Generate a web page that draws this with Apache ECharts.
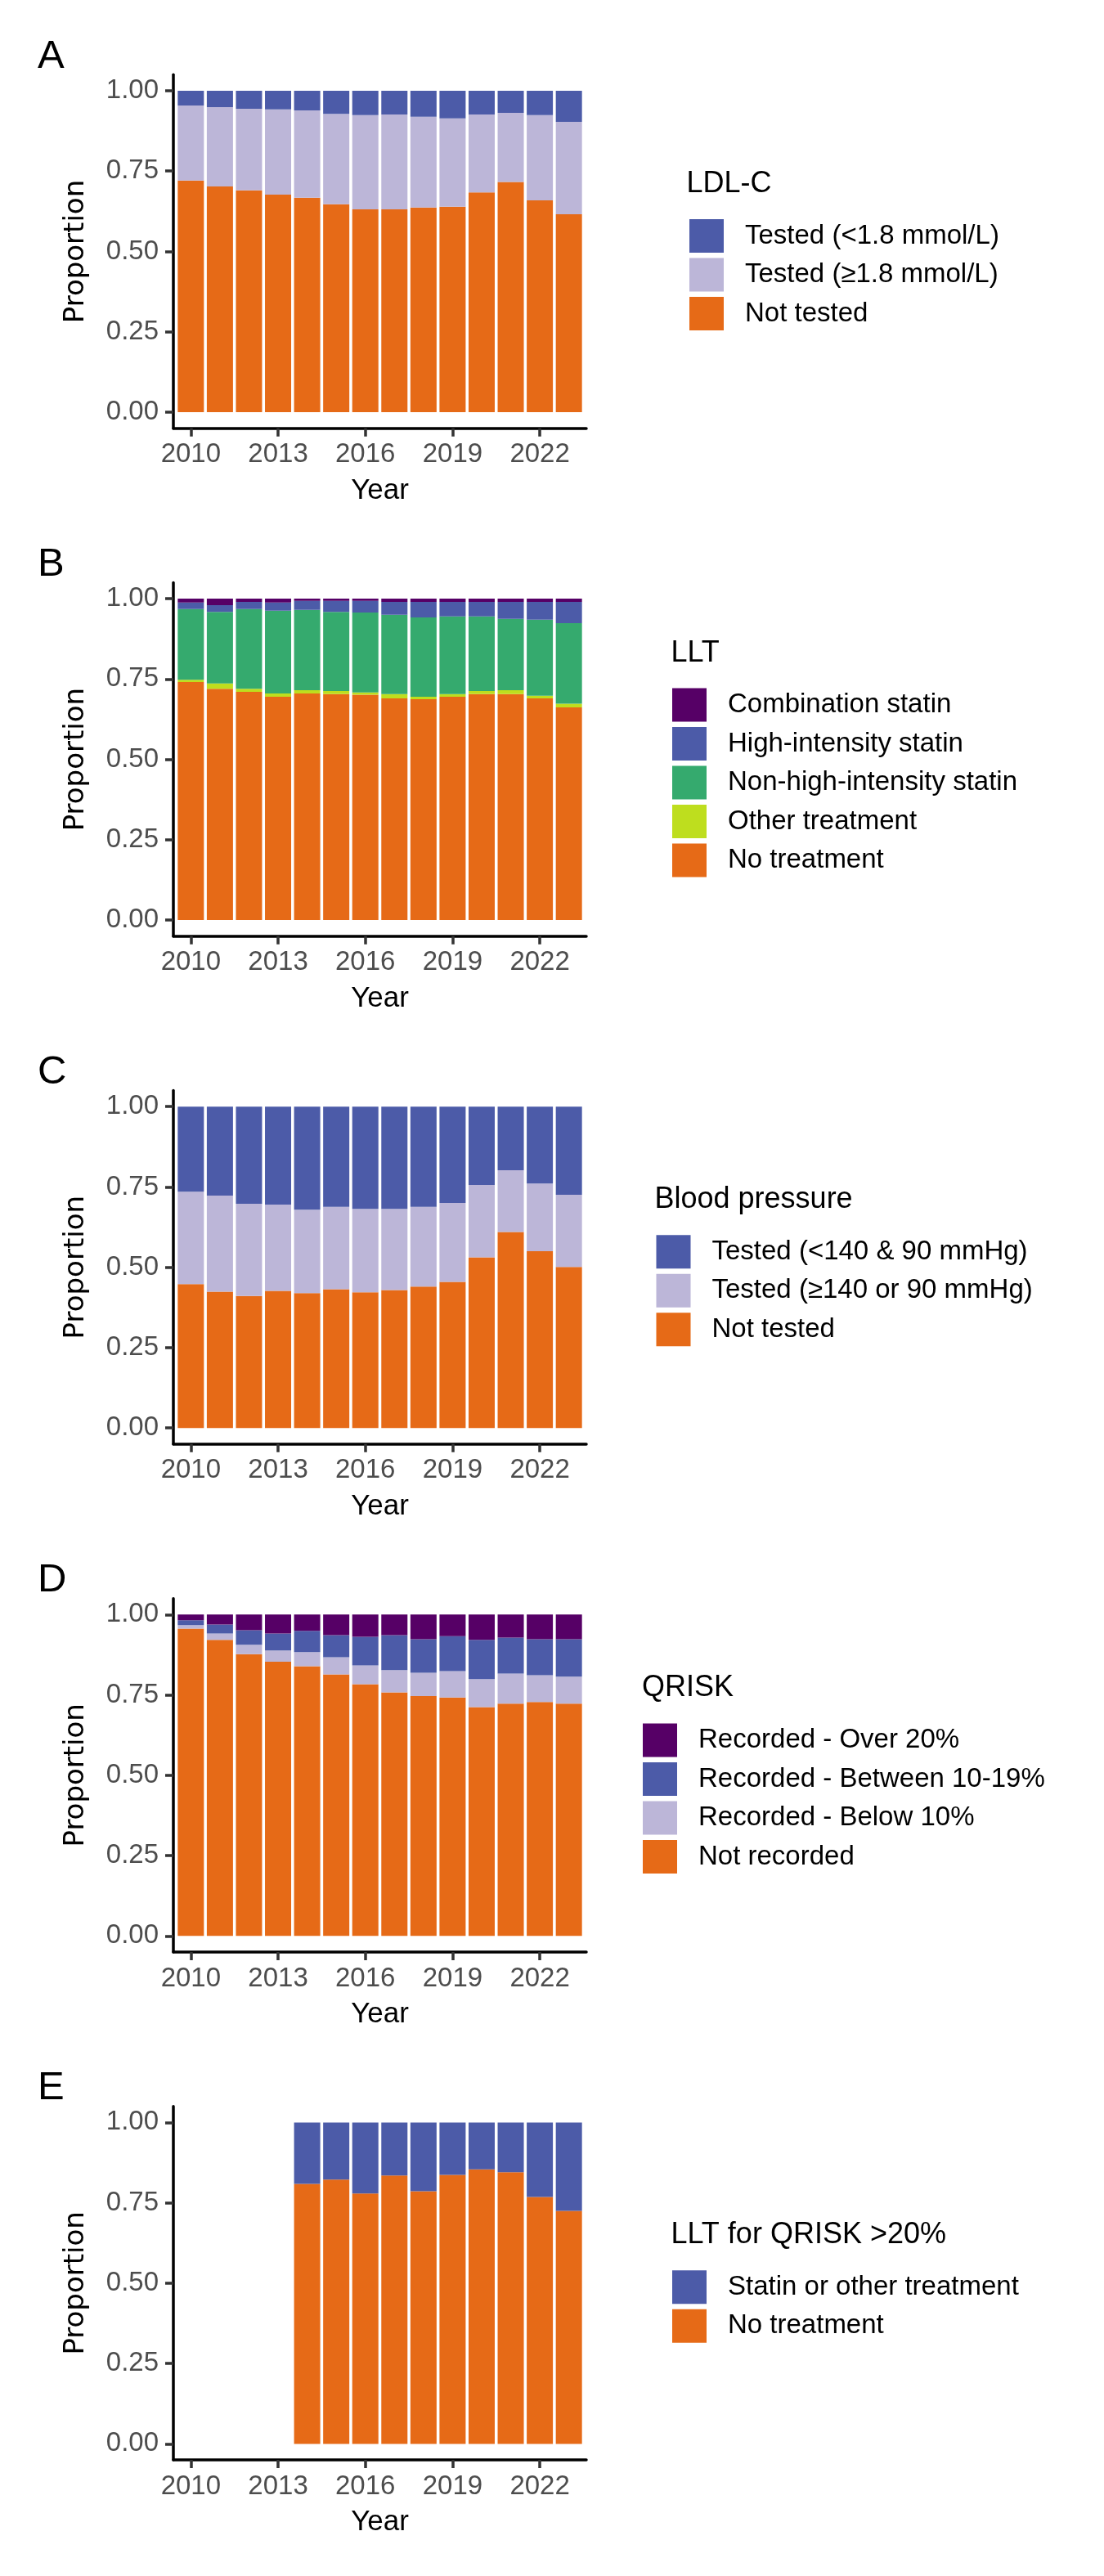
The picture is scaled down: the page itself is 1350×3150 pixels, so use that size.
<!DOCTYPE html>
<html>
<head>
<meta charset="utf-8">
<script src="https://cdn.jsdelivr.net/npm/echarts@6/dist/echarts.min.js"></script>
<style>
html,body{margin:0;padding:0;background:#ffffff;}
#chart{width:1350px;height:3150px;}
</style>
</head>
<body>
<div id="chart"></div>
<script>
// ---------------- DATA ----------------
const years = [2010,2011,2012,2013,2014,2015,2016,2017,2018,2019,2020,2021,2022,2023];
const yearsE = [2014,2015,2016,2017,2018,2019,2020,2021,2022,2023];
const xTickValues = [2010,2013,2016,2019,2022];
const yTickValues = [0,0.25,0.5,0.75,1];
const panelLetters = ['A','B','C','D','E'];
const legendTitles = ['LDL-C','LLT','Blood pressure','QRISK','LLT for QRISK >20%'];

// Panel A: LDL-C
const ldlNotTested  = [0.721,0.702,0.690,0.677,0.667,0.647,0.631,0.631,0.637,0.639,0.684,0.716,0.659,0.616];
const ldlTestedHigh = [0.233,0.247,0.254,0.265,0.272,0.281,0.293,0.295,0.282,0.275,0.242,0.215,0.265,0.287];
const ldlTestedLow  = [0.046,0.051,0.056,0.058,0.061,0.072,0.076,0.074,0.081,0.086,0.074,0.069,0.076,0.097];

// Panel B: LLT
const lltNoTreatment = [0.741,0.720,0.710,0.695,0.705,0.703,0.701,0.690,0.687,0.695,0.703,0.703,0.690,0.662];
const lltOther       = [0.007,0.016,0.010,0.010,0.010,0.010,0.007,0.013,0.008,0.008,0.010,0.012,0.008,0.011];
const lltNonHigh     = [0.220,0.223,0.248,0.258,0.250,0.246,0.249,0.247,0.247,0.242,0.232,0.222,0.237,0.251];
const lltHigh        = [0.020,0.021,0.022,0.025,0.028,0.034,0.036,0.040,0.048,0.045,0.045,0.053,0.055,0.066];
const lltCombination = [0.012,0.020,0.010,0.012,0.007,0.007,0.007,0.010,0.010,0.010,0.010,0.010,0.010,0.010];

// Panel C: Blood pressure
const bpNotTested  = [0.448,0.424,0.411,0.427,0.420,0.432,0.422,0.429,0.440,0.455,0.531,0.610,0.550,0.501];
const bpTestedHigh = [0.287,0.299,0.287,0.268,0.259,0.256,0.260,0.253,0.248,0.245,0.225,0.192,0.211,0.225];
const bpTestedLow  = [0.265,0.277,0.302,0.305,0.321,0.312,0.318,0.318,0.312,0.300,0.244,0.198,0.239,0.274];

// Panel D: QRISK
const qNotRecorded = [0.956,0.921,0.877,0.853,0.839,0.814,0.783,0.758,0.746,0.742,0.712,0.723,0.728,0.723];
const qBelow10     = [0.011,0.020,0.029,0.035,0.044,0.053,0.059,0.069,0.073,0.082,0.087,0.093,0.083,0.084];
const qBetween     = [0.015,0.028,0.045,0.053,0.066,0.069,0.089,0.109,0.104,0.109,0.122,0.112,0.112,0.116];
const qOver20      = [0.018,0.031,0.049,0.059,0.051,0.064,0.069,0.064,0.077,0.067,0.079,0.072,0.077,0.077];

// Panel E: LLT for QRISK >20%
const eNoTreatment = [0.809,0.822,0.779,0.835,0.786,0.837,0.854,0.845,0.768,0.725];
const eStatin      = [0.191,0.178,0.221,0.165,0.214,0.163,0.146,0.155,0.232,0.275];

// ---------------- STYLE ----------------
const ORANGE = '#E66A17', BLUE = '#4C5BA8', LILAC = '#BCB6D8', PURPLE = '#560066', GREEN = '#35AA6E', LIME = '#BEDE1E';
const FONT = '"Liberation Sans", Arial, sans-serif';

const panels = [
  { x: years, legendLeft: 843, titleLeft: 839.5, series: [
      {name:'Not tested', data: ldlNotTested, color: ORANGE},
      {name:'Tested (≥1.8 mmol/L)', data: ldlTestedHigh, color: LILAC},
      {name:'Tested (<1.8 mmol/L)', data: ldlTestedLow, color: BLUE}]},
  { x: years, legendLeft: 822, titleLeft: 820.5, series: [
      {name:'No treatment', data: lltNoTreatment, color: ORANGE},
      {name:'Other treatment', data: lltOther, color: LIME},
      {name:'Non-high-intensity statin', data: lltNonHigh, color: GREEN},
      {name:'High-intensity statin', data: lltHigh, color: BLUE},
      {name:'Combination statin', data: lltCombination, color: PURPLE}]},
  { x: years, legendLeft: 802.5, titleLeft: 800.5, series: [
      {name:'Not tested', data: bpNotTested, color: ORANGE},
      {name:'Tested (≥140 or 90 mmHg)', data: bpTestedHigh, color: LILAC},
      {name:'Tested (<140 & 90 mmHg)', data: bpTestedLow, color: BLUE}]},
  { x: years, legendLeft: 786, titleLeft: 785, series: [
      {name:'Not recorded', data: qNotRecorded, color: ORANGE},
      {name:'Recorded - Below 10%', data: qBelow10, color: LILAC},
      {name:'Recorded - Between 10-19%', data: qBetween, color: BLUE},
      {name:'Recorded - Over 20%', data: qOver20, color: PURPLE}]},
  { x: yearsE, legendLeft: 822, titleLeft: 820.5, series: [
      {name:'No treatment', data: eNoTreatment, color: ORANGE},
      {name:'Statin or other treatment', data: eStatin, color: BLUE}]}
];

// ---------------- LAYOUT ----------------
const PITCH = 621.1;
const GRID_LEFT = 212, GRID_W = 505, GRID_TOP0 = 91.35, GRID_H = 432.3;
const X_MIN = 2009.4, X_MAX = 2023.6;
const UNIT = GRID_W / (X_MAX - X_MIN);          // px per year
const BAR_GRID_LEFT = GRID_LEFT + (years[0] - 0.5 - X_MIN) * UNIT;
const BAR_GRID_W = years.length * UNIT;

const grids = [], xAxes = [], yAxes = [], series = [], legends = [], graphics = [];

panels.forEach((p, i) => {
  const off = i * PITCH;
  const gA = grids.length;
  // visible axes grid
  grids.push({left: GRID_LEFT, top: GRID_TOP0 + off, width: GRID_W, height: GRID_H});
  xAxes.push({
    gridIndex: gA, type: 'value', min: X_MIN, max: X_MAX,
    axisLine: {show: true, onZero: false, lineStyle: {color: '#000', width: 3.5}},
    axisTick: {show: true, customValues: xTickValues, length: 10, lineStyle: {color: '#333333', width: 3.5}},
    axisLabel: {customValues: xTickValues, margin: 16, fontSize: 33, color: '#4D4D4D', fontFamily: FONT,
                formatter: v => String(v)},
    splitLine: {show: false},
    name: 'Year', nameLocation: 'middle', nameGap: 59,
    nameTextStyle: {fontSize: 35, color: '#000', fontFamily: FONT}
  });
  yAxes.push({
    gridIndex: gA, type: 'value', min: -0.05, max: 1.05,
    axisLine: {show: true, onZero: false, lineStyle: {color: '#000', width: 3.5}},
    axisTick: {show: true, customValues: yTickValues, length: 10, lineStyle: {color: '#333333', width: 3.5}},
    axisLabel: {customValues: yTickValues, margin: 18, fontSize: 33, color: '#4D4D4D', fontFamily: FONT,
                formatter: v => Number(v).toFixed(2)},
    splitLine: {show: false},
    name: 'Proportion', nameLocation: 'middle', nameGap: 102, nameRotate: 90,
    nameTextStyle: {fontSize: 34, color: '#000', fontFamily: '"DejaVu Sans", sans-serif'}
  });
  // bar grid (category scale aligned with the year axis)
  const gB = grids.length;
  grids.push({left: BAR_GRID_LEFT, top: GRID_TOP0 + off, width: BAR_GRID_W, height: GRID_H});
  xAxes.push({gridIndex: gB, type: 'category', data: years.map(String), boundaryGap: true, show: false});
  yAxes.push({gridIndex: gB, type: 'value', min: -0.05, max: 1.05, show: false, splitLine: {show: false}});
  p.series.forEach(s => {
    series.push({
      type: 'bar', name: s.name, xAxisIndex: gB, yAxisIndex: gB, stack: 'panel' + i,
      barWidth: '90%', itemStyle: {color: s.color}, emphasis: {disabled: true},
      data: years.map(yr => { const j = p.x.indexOf(yr); return j >= 0 ? s.data[j] : null; })
    });
  });
  const n = p.series.length;
  const keysTop = 305.5 + 61 - (61 + 41 + (n - 1) * 47.5) / 2 + off;
  legends.push({
    orient: 'vertical', left: p.legendLeft, top: keysTop, padding: 0,
    itemWidth: 42, itemHeight: 41, itemGap: 6.5, icon: 'rect', selectedMode: false,
    data: p.series.map(s => s.name).reverse(),
    textStyle: {fontSize: 33, color: '#000', fontFamily: FONT, padding: [0, 0, 0, 21]}
  });
  graphics.push({type: 'text', x: p.titleLeft, y: keysTop - 43,
    style: {text: legendTitles[i], fontSize: 36, fontFamily: FONT, fill: '#000', align: 'left', verticalAlign: 'middle'}});
  graphics.push({type: 'text', x: 46, y: 69.5 + off,
    style: {text: panelLetters[i], fontSize: 49, fontFamily: FONT, fill: '#000', align: 'left', verticalAlign: 'middle'}});
});

const chart = echarts.init(document.getElementById('chart'), null, {renderer: 'canvas'});
chart.setOption({
  animation: false,
  backgroundColor: '#ffffff',
  grid: grids, xAxis: xAxes, yAxis: yAxes, series: series, legend: legends, graphic: graphics
});
</script>
</body>
</html>
